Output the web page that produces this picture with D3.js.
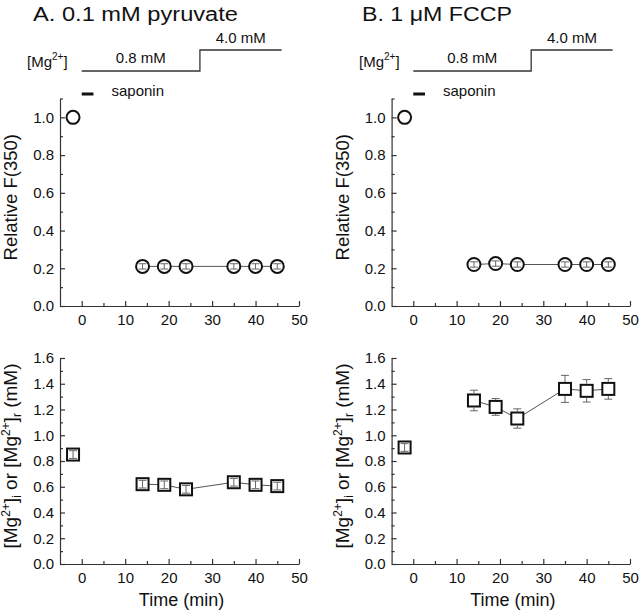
<!DOCTYPE html>
<html><head><meta charset="utf-8">
<script src="https://cdn.jsdelivr.net/npm/d3@7"></script>
<style>
body{margin:0;background:#fff}
text{font-family:Arial,"Liberation Sans",sans-serif;fill:#111}
</style>
</head><body><svg id="c" width="640" height="614"></svg>
<script>
// ---- data ----
const times = [-2, 14, 19, 24, 35, 40, 45];
const fA = [1.0, 0.21, 0.21, 0.21, 0.21, 0.21, 0.21];
const fAErr = [0, 0.014, 0.014, 0.014, 0.014, 0.014, 0.014];
const fB = [1.0, 0.22, 0.225, 0.22, 0.22, 0.22, 0.22];
const fBErr = [0, 0.014, 0.014, 0.014, 0.014, 0.014, 0.014];
const mgA = [0.85, 0.62, 0.615, 0.58, 0.635, 0.615, 0.605];
const mgAErr = [0.03, 0.03, 0.03, 0.03, 0.03, 0.03, 0.03];
const mgB = [0.905, 1.27, 1.22, 1.13, 1.36, 1.345, 1.36];
const mgBErr = [0.03, 0.08, 0.065, 0.075, 0.105, 0.087, 0.08];
const xTicks = [0, 10, 20, 30, 40, 50];
const xMinor = [5, 15, 25, 35, 45];
const fTicks = [0, 0.2, 0.4, 0.6, 0.8, 1.0];
const fMinor = [0.1, 0.3, 0.5, 0.7, 0.9, 1.1];
const mgTicks = [0, 0.2, 0.4, 0.6, 0.8, 1.0, 1.2, 1.4, 1.6];
const mgMinor = [0.1, 0.3, 0.5, 0.7, 0.9, 1.1, 1.3, 1.5];
const stepTimes = [0, 27.2, 46];
const stepLabels = ["0.8 mM", "4.0 mM"];
const saponinTimes = [0, 2.7];
const titles = ["A. 0.1 mM pyruvate", "B. 1 \u03BCM FCCP"];

// ---- layout ----
const svg = d3.select("#c");
const cols = [{x0: 60, x1: 299, titleX: 33, titleW: 205, mgX: 27, yTitleX: 17},
              {x0: 391.6, x1: 630, titleX: 362, titleW: 150, mgX: 359, yTitleX: 349}];
const rows = [{y0: 306, y1: 98.5, domain: [0, 1.1], ticks: fTicks, minor: fMinor, fmt: d3.format(".1f")},
              {y0: 564, y1: 358, domain: [0, 1.6], ticks: mgTicks, minor: mgMinor, fmt: d3.format(".1f")}];
const datasets = [
  [{v: fA, e: fAErr, shape: "circle"}, {v: mgA, e: mgAErr, shape: "square"}],
  [{v: fB, e: fBErr, shape: "circle"}, {v: mgB, e: mgBErr, shape: "square"}]
];
const axisColor = "#333";
const fs = 15;

cols.forEach((c, ci) => {
  const x = d3.scaleLinear().domain([-5, 50]).range([c.x0, c.x1]);

  // header
  svg.append("text").attr("x", c.titleX).attr("y", 21).attr("font-size", 20)
     .attr("textLength", c.titleW).attr("lengthAdjust", "spacingAndGlyphs").text(titles[ci]);
  const mg = svg.append("text").attr("x", c.mgX).attr("y", 67).attr("font-size", fs);
  mg.append("tspan").text("[Mg");
  mg.append("tspan").attr("font-size", 10).attr("dy", -7).text("2+");
  mg.append("tspan").attr("dy", 7).text("]");
  const yLow = 71, yHigh = 50;
  const stepPts = [[x(stepTimes[0]), yLow], [x(stepTimes[1]), yLow], [x(stepTimes[1]), yHigh], [x(stepTimes[2]), yHigh]];
  svg.append("path").attr("d", d3.line()(stepPts)).attr("fill", "none").attr("stroke", "#333").attr("stroke-width", 1.3);
  svg.append("text").attr("x", x((stepTimes[0] + stepTimes[1]) / 2)).attr("y", 63)
     .attr("text-anchor", "middle").attr("font-size", fs).text(stepLabels[0]);
  svg.append("text").attr("x", x((stepTimes[1] + stepTimes[2]) / 2)).attr("y", 43)
     .attr("text-anchor", "middle").attr("font-size", fs).text(stepLabels[1]);
  svg.append("line").attr("x1", x(saponinTimes[0])).attr("x2", x(saponinTimes[1]))
     .attr("y1", 94).attr("y2", 94).attr("stroke", "#111").attr("stroke-width", 3);
  svg.append("text").attr("x", x(saponinTimes[1]) + 18).attr("y", 96).attr("font-size", fs).text("saponin");

  rows.forEach((r, ri) => {
    const y = d3.scaleLinear().domain(r.domain).range([r.y0, r.y1]);
    // axes
    const gx = svg.append("g").attr("transform", `translate(0,${r.y0})`)
      .call(d3.axisBottom(x).tickValues(xTicks).tickSize(-5).tickSizeOuter(0).tickPadding(8).tickFormat(d3.format("d")));
    const gxm = svg.append("g").attr("transform", `translate(0,${r.y0})`)
      .call(d3.axisBottom(x).tickValues(xMinor).tickSize(-3).tickSizeOuter(0).tickFormat(""));
    gxm.select(".domain").remove();
    const gy = svg.append("g").attr("transform", `translate(${c.x0},0)`)
      .call(d3.axisLeft(y).tickValues(r.ticks).tickSize(-5).tickSizeOuter(0).tickPadding(6).tickFormat(r.fmt));
    const gym = svg.append("g").attr("transform", `translate(${c.x0},0)`)
      .call(d3.axisLeft(y).tickValues(r.minor).tickSize(-3).tickSizeOuter(0).tickFormat(""));
    gym.select(".domain").remove();
    [gx, gxm, gy, gym].forEach(g => {
      g.selectAll(".domain, line").attr("stroke", axisColor).attr("stroke-width", 1.2);
      g.selectAll("text").attr("font-size", fs).attr("font-family", "Arial, 'Liberation Sans', sans-serif").attr("fill", "#111");
    });

    // y title
    const yc = (r.y0 + r.y1) / 2 - 5;
    const t = svg.append("text").attr("transform", `translate(${c.yTitleX},${yc}) rotate(-90)`)
      .attr("text-anchor", "middle").attr("font-size", ri === 0 ? 18.5 : 19);
    if (ri === 0) {
      t.text("Relative F(350)");
    } else {
      t.append("tspan").text("[Mg");
      t.append("tspan").attr("font-size", 12).attr("dy", -7).text("2+");
      t.append("tspan").attr("dy", 7).text("]");
      t.append("tspan").attr("font-size", 12).attr("dy", 4).text("i");
      t.append("tspan").attr("dy", -4).text(" or [Mg");
      t.append("tspan").attr("font-size", 12).attr("dy", -7).text("2+");
      t.append("tspan").attr("dy", 7).text("]");
      t.append("tspan").attr("font-size", 12).attr("dy", 4).text("r");
      t.append("tspan").attr("dy", -4).text(" (mM)");
    }
    if (ri === 1) {
      svg.append("text").attr("x", (c.x0 + c.x1) / 2 + 2).attr("y", 606)
        .attr("text-anchor", "middle").attr("font-size", 18).text("Time (min)");
    }

    // data
    const ds = datasets[ci][ri];
    const pts = times.map((t, i) => ({t, v: ds.v[i], e: ds.e[i]}));
    svg.append("path").attr("d", d3.line().x(d => x(d.t)).y(d => y(d.v))(pts.slice(1)))
      .attr("fill", "none").attr("stroke", "#555").attr("stroke-width", 1);
    const half = 6;
    pts.forEach(d => {
      const cx = x(d.t), cy = y(d.v);
      if (ds.shape === "circle") {
        svg.append("circle").attr("cx", cx).attr("cy", cy).attr("r", 6.5)
          .attr("fill", "#fff").attr("stroke", "#111").attr("stroke-width", 2);
      } else {
        svg.append("rect").attr("x", cx - half).attr("y", cy - half).attr("width", 2 * half).attr("height", 2 * half)
          .attr("fill", "#fff").attr("stroke", "#111").attr("stroke-width", 2);
      }
      if (d.e > 0) {
        const yt = y(d.v + d.e), yb = y(d.v - d.e);
        const g = svg.append("g").attr("stroke", "#666").attr("stroke-width", 1);
        if (cy - yt > half + 1) {
          g.append("line").attr("x1", cx).attr("x2", cx).attr("y1", yt).attr("y2", cy - half - 1);
          g.append("line").attr("x1", cx).attr("x2", cx).attr("y1", cy + half + 1).attr("y2", yb);
        } else {
          g.append("line").attr("x1", cx).attr("x2", cx).attr("y1", yt).attr("y2", yb);
        }
        g.append("line").attr("x1", cx - 4).attr("x2", cx + 4).attr("y1", yt).attr("y2", yt);
        g.append("line").attr("x1", cx - 4).attr("x2", cx + 4).attr("y1", yb).attr("y2", yb);
      }
    });
  });
});
</script>
</body></html>
